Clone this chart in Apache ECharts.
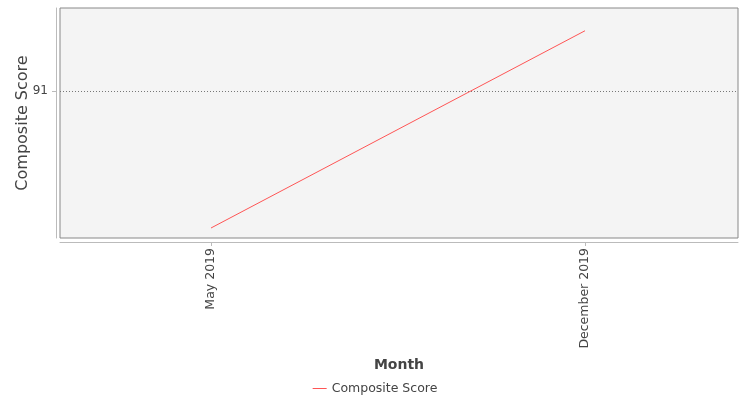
<!DOCTYPE html>
<html>
<head>
<meta charset="utf-8">
<script src="https://cdn.jsdelivr.net/npm/echarts@6/dist/echarts.min.js"></script>
<style>
  html, body { margin: 0; padding: 0; background: #fff; }
  #chart { width: 750px; height: 400px; }
</style>
</head>
<body>
<div id="chart"></div>
<script>
var months = ['May 2019', 'December 2019'];
var scores = [90.5, 91.22];
var yTicks = [91];

var myChart = echarts.init(document.getElementById('chart'));

var points = months.map(function (m, i) { return [i, scores[i]]; });
var font = 'DejaVu Sans';

option = {
    animation: false,
    textStyle: { fontFamily: font },
    grid: {
        left: 60,
        right: 12,
        top: 8,
        bottom: 162,
        outerBoundsMode: 'none',
        containLabel: false,
        show: true,
        backgroundColor: '#f4f4f4',
        borderColor: '#888',
        borderWidth: 1
    },
    legend: {
        bottom: 0,
        left: 'center',
        icon: 'rect',
        itemWidth: 14,
        itemHeight: 1,
        itemGap: 10,
        textStyle: { fontFamily: font, fontSize: 12.5, color: '#444' },
        data: ['Composite Score']
    },
    xAxis: {
        type: 'value',
        min: -0.4037,
        max: 1.409,
        offset: 4,
        name: 'Month',
        nameLocation: 'middle',
        nameGap: 116,
        nameTextStyle: { fontFamily: font, fontSize: 14, fontWeight: 'bold', color: '#444' },
        axisLine: { show: true, onZero: false, lineStyle: { color: '#bbb' } },
        axisTick: { show: true, length: 4, customValues: [0, 1], lineStyle: { color: '#bbb' } },
        axisLabel: {
            customValues: [0, 1],
            rotate: 90,
            margin: 6,
            fontFamily: font,
            fontSize: 12.5,
            color: '#444',
            formatter: function (v) { return months[Math.round(v)]; }
        },
        splitLine: { show: false }
    },
    yAxis: {
        type: 'value',
        min: 90.4635,
        max: 91.303,
        offset: 4,
        name: 'Composite Score',
        nameLocation: 'middle',
        nameGap: 25,
        nameMoveOverlap: false,
        nameTextStyle: { fontFamily: font, fontSize: 16, color: '#444' },
        axisLine: { show: true, onZero: false, lineStyle: { color: '#bbb' } },
        axisTick: { show: true, length: 4, customValues: yTicks, lineStyle: { color: '#bbb' } },
        axisLabel: {
            customValues: yTicks,
            margin: 8,
            fontFamily: font,
            fontSize: 12,
            color: '#444'
        },
        splitLine: { show: true, lineStyle: { color: '#777', type: [1, 2], width: 1 } }
    },
    series: [
        {
            name: 'Composite Score',
            type: 'line',
            data: points,
            showSymbol: false,
            symbol: 'none',
            lineStyle: { color: '#ff5555', width: 1 },
            itemStyle: { color: '#ff5555' }
        }
    ]
};

myChart.setOption(option);
</script>
</body>
</html>
